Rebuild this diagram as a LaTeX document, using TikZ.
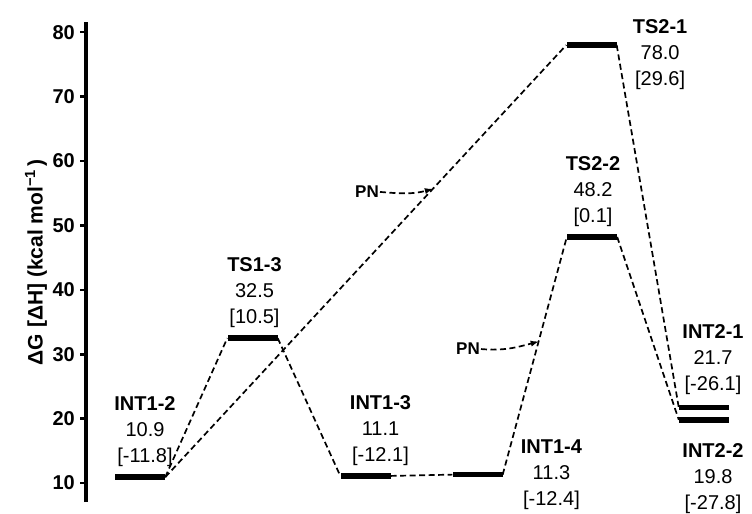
\documentclass[tikz,border=0pt]{standalone}
\usepackage{fontspec}
\setmainfont{Liberation Sans}
\usepackage{tikz}
\usetikzlibrary{positioning}
\usetikzlibrary{calc}
\tikzset{level/.style={fill=black, minimum width=50pt, minimum height=5.5pt, inner sep=0pt},
lbl/.style={align=center, inner sep=1pt, font=\fontsize{20}{26}\selectfont},
conn/.style={dash pattern=on 6pt off 3.5pt, line width=1.7pt},
ticklbl/.style={anchor=east, inner sep=0pt, font=\bfseries\fontsize{20}{20}\selectfont},
pnlbl/.style={inner sep=1pt, font=\bfseries\fontsize{17}{17}\selectfont}}

\begin{document}
\begin{tikzpicture}[x=1pt, y=6.44pt]
\useasboundingbox (0,5.19) rectangle (752,85);
% axis
\draw[line width=3.2pt] (86,7.05) -- (86,81.6);
\foreach \v in {10,20,...,80} {
\draw[line width=2.6pt] (80,\v) -- (86,\v);
\node (tk\v) [ticklbl] at (75,\v) {\v};
}
\node (ylab) [rotate=90, font=\bfseries\fontsize{21}{21}\selectfont] at (36,44.3) {ΔG [ΔH] (kcal mol\textsuperscript{−1}\,)};

% levels
\node (int12) [level] at (140,10.9) {};
\node (ts13) [level] at (252.5,32.5) {};
\node (int13) [level] at (365.5,11.1) {};
\node (int14) [level] at (477.5,11.3) {};
\node (ts22) [level] at (592,48.2) {};
\node (ts21) [level] at (591.5,78.0) {};
\node (int21) [level] at (704,21.7) {};
\node (int22) [level] at (704,19.8) {};

\node (lint12) [lbl, above=6pt of int12, xshift=5pt] {\textbf{INT1-2}\\10.9\\{[}-11.8{]}};
\node (lts13) [lbl, above=6pt of ts13, xshift=2pt] {\textbf{TS1-3}\\32.5\\{[}10.5{]}};
\node (lint13) [lbl, above=6pt of int13, xshift=15pt] {\textbf{INT1-3}\\11.1\\{[}-12.1{]}};
\node (lint14) [lbl, right=17pt of int14] {\textbf{INT1-4}\\11.3\\{[}-12.4{]}};
\node (lts22) [lbl, above=6pt of ts22, xshift=1pt] {\textbf{TS2-2}\\48.2\\{[}0.1{]}};
\node (lts21) [lbl, right=15pt of ts21, yshift=-10pt] {\textbf{TS2-1}\\78.0\\{[}29.6{]}};
\node (lint21) [lbl, above=9pt of int21, xshift=9pt] {\textbf{INT2-1}\\21.7\\{[}-26.1{]}};
\node (lint22) [lbl, below=19pt of int22, xshift=9pt] {\textbf{INT2-2}\\19.8\\{[}-27.8{]}};

% paths
\draw[conn] (int12.east) -- (ts13.west);
\draw[conn] (int12.east) -- (ts21.west);
\draw[conn] (ts13.east) -- (int13.west);
\draw[conn] (int13.east) -- (int14.west);
\draw[conn] (int14.east) -- (ts22.west);
\draw[conn] (ts22.east) -- (int22.west);
\draw[conn] (ts21.east) -- (int21.west);

% PN
\node (pn1) [pnlbl] at (367,55.2) {PN};
\coordinate (pt1) at ($(int12.east)!0.667!(ts21.west)$);
\draw[conn, -latex] (pn1.east) to[out=-5, in=195] (pt1);
\node (pn2) [pnlbl] at (468,30.8) {PN};
\coordinate (pt2) at ($(int14.east)!0.56!(ts22.west)$);
\draw[conn, -latex] (pn2.east) to[out=-5, in=195] (pt2);
\end{tikzpicture}
\end{document}
